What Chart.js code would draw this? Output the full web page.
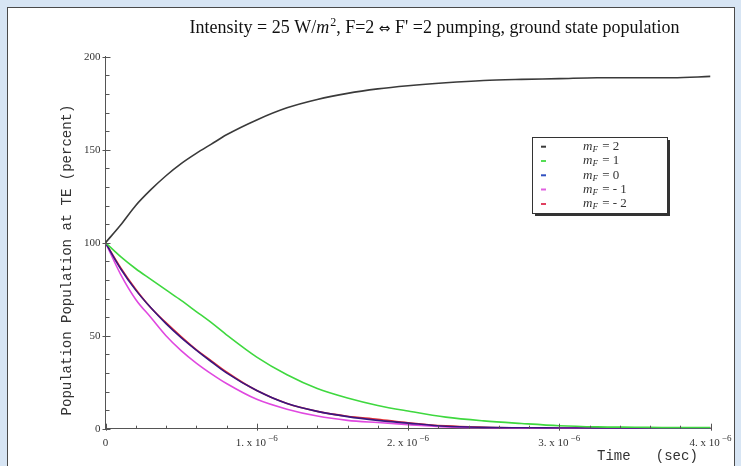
<!DOCTYPE html>
<html><head><meta charset="utf-8">
<style>
html,body{margin:0;padding:0;width:741px;height:466px;overflow:hidden;background:#d7e5f4;}
#panel{position:absolute;left:7px;top:7px;width:728px;height:470px;background:#fff;border:1px solid #4a4a4a;box-sizing:border-box;}
#wrap{position:absolute;left:0;top:0;width:741px;height:466px;}
</style>
<script src="https://cdn.jsdelivr.net/npm/chart.js@4.4.0/dist/chart.umd.min.js"></script>
</head><body>
<div id="panel"></div>
<div id="wrap"><canvas id="c" width="741" height="466"></canvas></div>
<script>
// time in units of 1e-6 s
const timeUs = [0,0.1,0.2,0.3,0.4,0.5,0.6,0.7,0.8,1.0,1.2,1.4,1.6,1.8,2.0,2.25,2.5,2.75,3.0,3.25,3.5,3.75,4.0];
const mF2  = [100,109.5,120,128.5,136,142.5,148,153,158,166,172.5,177,180.3,182.7,184.4,186,187.2,187.8,188.2,188.7,188.7,188.7,189.4];
const mF1  = [100,92.5,86,80.3,74.6,69,63,57,50.5,38.5,29,21.6,16.5,12.5,9.5,6.2,4.2,2.8,1.6,1.0,0.8,0.6,0.6];
const mF0  = [100,86,74.5,65,56.5,49,42.3,36,30,20.5,13.5,9.3,6.5,4.5,3.0,1.3,0.7,0.5,0.4,0.3,0.3,0.3,0.3];
const mFm1 = [100,83,69.5,59.8,50,42,35.3,29.5,24.3,15.8,10.5,6.8,4.5,3.3,2.2,1.0,0.5,0.3,0.3,0.3,0.3,0.3,0.3];
const mFm2 = [100,86.6,75,65,57,49.5,42.5,36.5,30.5,20.5,13.5,9.3,6.7,5.1,3.2,1.5,0.8,0.5,0.4,0.3,0.3,0.3,0.3];
const mFvalues = ["2","1","0","-1","-2"];
const seriesColors = ["#3a3a3a","#3fd83f","#3a1680","#e048e0","#e83030"];
const legendColors = ["#3a3a3a","#55dd55","#3050c0","#e060e0","#e04060"];
const xTickLabels = ["0","1. x 10","2. x 10","3. x 10","4. x 10"];
const xTickExp = "\u22126";
const titleParts = [["Intensity = 25 W/","n"],["m","i"],["2","sup"],[", F=2 ","n"],["\u21D4","sym"],[" F' =2 pumping, ground state population","n"]];
const yTitle = "Population Population at TE (percent)";
const xTitle = "Time   (sec)";

const allSeries = [mF2,mF1,mF0,mFm1,mFm2];
const datasets = allSeries.map((vals,i)=>({
  label: "mF = " + mFvalues[i],
  data: timeUs.map((t,j)=>({x:t,y:vals[j]})),
  borderColor: seriesColors[i],
  backgroundColor: seriesColors[i],
  borderWidth: 1.6,
  pointRadius: 0,
  cubicInterpolationMode: 'monotone',
  fill: false
}));

const SERIF = "'Liberation Serif','Times New Roman',serif";
const MONO = "'Liberation Mono','DejaVu Sans Mono',monospace";

const deco = {
  id:'deco',
  afterDraw(chart){
    const ctx = chart.ctx;
    const xs = chart.scales.x, ys = chart.scales.y;
    const a = chart.chartArea;
    ctx.save();
    ctx.strokeStyle = '#555'; ctx.lineWidth = 1;
    for (let v=0; v<=200; v+=10){
      const py = Math.round(ys.getPixelForValue(v))+0.5;
      const major = v%50===0;
      ctx.beginPath();
      ctx.moveTo(a.left-(major?3:0), py); ctx.lineTo(a.left+(major?5:4), py); ctx.stroke();
    }
    for (let k=0; k<=20; k++){
      const v = k*0.2;
      const px = Math.round(xs.getPixelForValue(v))+0.5;
      const major = k%5===0;
      ctx.beginPath();
      ctx.moveTo(px, a.bottom+(major?2:0)); ctx.lineTo(px, a.bottom-(major?5:3)); ctx.stroke();
    }
    // x tick labels
    ctx.fillStyle = '#333';
    ctx.textBaseline = 'alphabetic';
    xTickLabels.forEach((lab,i)=>{
      const px = xs.getPixelForValue(i);
      ctx.font = "11px " + SERIF;
      const w1 = ctx.measureText(lab).width;
      if (i===0){ ctx.textAlign='center'; ctx.fillText(lab, px, 446); return; }
      ctx.font = "9px " + SERIF;
      const w2 = ctx.measureText(xTickExp).width;
      const x0 = px - (w1+w2+2)/2;
      ctx.textAlign='left';
      ctx.font = "11px " + SERIF; ctx.fillText(lab, x0, 446);
      ctx.font = "9px " + SERIF; ctx.fillText(xTickExp, x0+w1+2, 441);
    });
    // title
    let tw = 0;
    const fontFor = (k)=> k==='i' ? "italic 18px "+SERIF : (k==='sup' ? "12px "+SERIF : (k==='sym' ? "14px 'DejaVu Sans',sans-serif" : "18px "+SERIF));
    const gap = (k)=> k==='sup'?1:0;
    titleParts.forEach(([t,k])=>{ ctx.font=fontFor(k); tw += ctx.measureText(t).width + gap(k); });
    let tx = 434.5 - tw/2;
    ctx.textAlign='left'; ctx.fillStyle='#111';
    titleParts.forEach(([t,k])=>{
      ctx.font=fontFor(k);
      ctx.fillText(t, tx + gap(k), k==='sup'?26:33);
      tx += ctx.measureText(t).width + gap(k);
    });
    // axis titles
    ctx.fillStyle='#333';
    ctx.font = "14px " + MONO;
    ctx.save();
    ctx.translate(67, 260); ctx.rotate(-Math.PI/2);
    ctx.textAlign='center'; ctx.textBaseline='middle';
    ctx.fillText(yTitle, 0, 0);
    ctx.restore();
    ctx.textAlign='left'; ctx.textBaseline='alphabetic';
    ctx.fillText(xTitle, 597, 460);
    // legend
    const L=532, T=137, R=667, B=213;
    ctx.fillStyle='#333'; ctx.fillRect(L+3, T+3, R-L, B-T);
    ctx.fillStyle='#fff'; ctx.fillRect(L, T, R-L, B-T);
    ctx.strokeStyle='#333'; ctx.lineWidth=1; ctx.strokeRect(L+0.5, T+0.5, R-L, B-T);
    const rows=[146.7,161,175.3,189.5,204];
    chart.data.datasets.forEach((ds,i)=>{
      const y = rows[i];
      ctx.strokeStyle = legendColors[i]; ctx.lineWidth=2;
      ctx.beginPath(); ctx.moveTo(541, y); ctx.lineTo(546, y); ctx.stroke();
      ctx.fillStyle='#333'; ctx.textBaseline='middle'; ctx.textAlign='left';
      let x = 583;
      ctx.font = "italic 13px " + SERIF; ctx.fillText("m", x, y); x += ctx.measureText("m").width;
      ctx.font = "italic 9px " + SERIF; ctx.fillText("F", x, y+3); x += ctx.measureText("F").width + 1;
      ctx.font = "13px " + SERIF; ctx.fillText(" = " + mFvalues[i].replace("-", "- "), x, y);
    });
    ctx.restore();
  }
};

new Chart(document.getElementById('c'), {
  type:'line',
  data:{datasets},
  options:{
    responsive:false, animation:false, devicePixelRatio:1,
    layout:{padding:{left:0, top:56.7, right:30.5, bottom:0}},
    plugins:{legend:{display:false}, title:{display:false}, tooltip:{enabled:false}},
    scales:{
      x:{type:'linear', min:0, max:4, ticks:{stepSize:1, display:false}, grid:{display:false, drawTicks:false},
         border:{display:true, color:'#555', width:1}, afterFit:s=>{s.height=37.3;}},
      y:{type:'linear', min:0, max:200, ticks:{stepSize:50, color:'#333', padding:5, font:{family:SERIF, size:11}},
         grid:{display:false, drawTicks:false}, border:{display:true, color:'#555', width:1}, afterFit:s=>{s.width=105.5;}}
    }
  },
  plugins:[deco]
});
</script>
</body></html>
